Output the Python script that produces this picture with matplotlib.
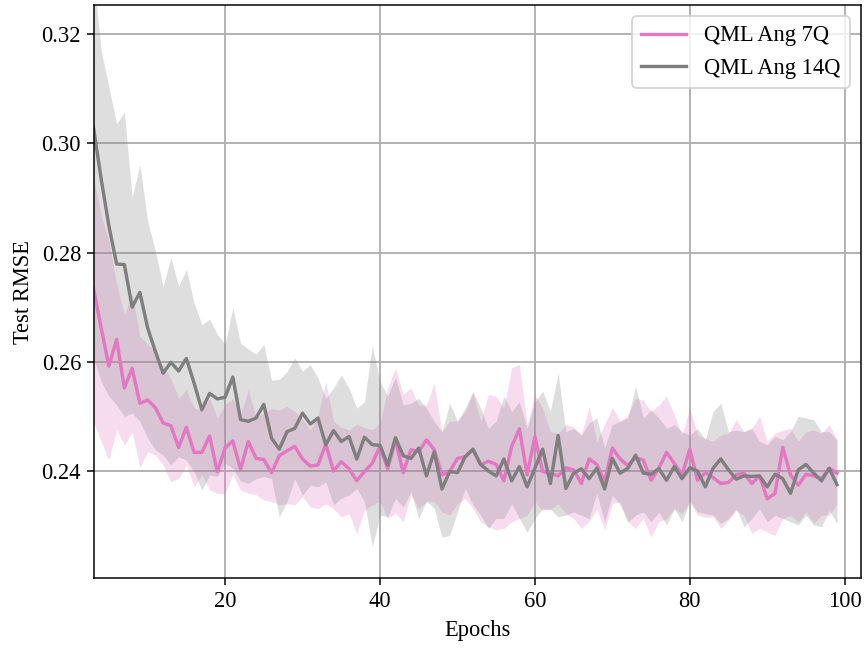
import numpy as np
import matplotlib
matplotlib.use("Agg")
import matplotlib.pyplot as plt

plt.rcParams['font.family'] = ['Liberation Serif', 'DejaVu Serif']
plt.rcParams['font.size'] = 12

epochs = np.arange(3, 100)

# QML Ang 7Q (pink): mean, upper, lower
ang7_mean = [
    0.2735, 0.2662, 0.2592, 0.2641, 0.2552, 0.2588, 0.2524, 0.2530, 0.2516, 0.2488,
    0.2483, 0.2443, 0.2480, 0.2434, 0.2434, 0.2464, 0.2399, 0.2442, 0.2455, 0.2403,
    0.2454, 0.2423, 0.2421, 0.2397, 0.2428, 0.2437, 0.2445, 0.2422, 0.2409, 0.2411,
    0.2449, 0.2400, 0.2417, 0.2404, 0.2382, 0.2399, 0.2414, 0.2445, 0.2404, 0.2457,
    0.2397, 0.2439, 0.2435, 0.2457, 0.2439, 0.2393, 0.2399, 0.2423, 0.2426, 0.2439,
    0.2411, 0.2418, 0.2412, 0.2382, 0.2445, 0.2477, 0.2393, 0.2463, 0.2399, 0.2396,
    0.2391, 0.2406, 0.2402, 0.2377, 0.2422, 0.2412, 0.2380, 0.2442, 0.2422, 0.2410,
    0.2424, 0.2420, 0.2383, 0.2405, 0.2434, 0.2414, 0.2393, 0.2440, 0.2383, 0.2397,
    0.2388, 0.2377, 0.2379, 0.2393, 0.2396, 0.2377, 0.2391, 0.2349, 0.2359, 0.2443,
    0.2393, 0.2374, 0.2394, 0.2391, 0.2386, 0.2405, 0.2396,
]
ang7_upper = [
    0.2940, 0.2868, 0.2822, 0.2742, 0.2687, 0.2724, 0.2647, 0.2632, 0.2619, 0.2592,
    0.2570, 0.2533, 0.2549, 0.2515, 0.2512, 0.2533, 0.2497, 0.2521, 0.2533, 0.2503,
    0.2549, 0.2497, 0.2506, 0.2514, 0.2512, 0.2518, 0.2509, 0.2494, 0.2475, 0.2503,
    0.2564, 0.2491, 0.2480, 0.2475, 0.2485, 0.2480, 0.2475, 0.2488, 0.2552, 0.2589,
    0.2540, 0.2552, 0.2521, 0.2521, 0.2561, 0.2472, 0.2491, 0.2491, 0.2509, 0.2543,
    0.2491, 0.2540, 0.2537, 0.2515, 0.2589, 0.2595, 0.2485, 0.2540, 0.2515, 0.2472,
    0.2469, 0.2485, 0.2481, 0.2466, 0.2518, 0.2454, 0.2485, 0.2516, 0.2491, 0.2503,
    0.2533, 0.2530, 0.2509, 0.2521, 0.2537, 0.2503, 0.2466, 0.2515, 0.2466, 0.2460,
    0.2454, 0.2466, 0.2469, 0.2494, 0.2472, 0.2478, 0.2500, 0.2454, 0.2469, 0.2475,
    0.2478, 0.2454, 0.2472, 0.2475, 0.2469, 0.2485, 0.2457,
]
ang7_lower = [
    0.2491, 0.2454, 0.2420, 0.2475, 0.2447, 0.2472, 0.2406, 0.2435, 0.2429, 0.2411,
    0.2380, 0.2386, 0.2411, 0.2371, 0.2393, 0.2365, 0.2359, 0.2359, 0.2393, 0.2365,
    0.2359, 0.2356, 0.2347, 0.2344, 0.2338, 0.2340, 0.2338, 0.2353, 0.2334, 0.2331,
    0.2340, 0.2331, 0.2316, 0.2322, 0.2285, 0.2328, 0.2338, 0.2344, 0.2313, 0.2323,
    0.2307, 0.2356, 0.2331, 0.2344, 0.2344, 0.2325, 0.2319, 0.2340, 0.2350, 0.2331,
    0.2307, 0.2298, 0.2292, 0.2295, 0.2307, 0.2313, 0.2319, 0.2344, 0.2328, 0.2330,
    0.2340, 0.2322, 0.2313, 0.2295, 0.2307, 0.2331, 0.2292, 0.2340, 0.2344, 0.2307,
    0.2295, 0.2313, 0.2279, 0.2307, 0.2313, 0.2331, 0.2322, 0.2344, 0.2319, 0.2315,
    0.2316, 0.2295, 0.2310, 0.2328, 0.2319, 0.2285, 0.2295, 0.2288, 0.2282, 0.2313,
    0.2319, 0.2307, 0.2325, 0.2304, 0.2319, 0.2319, 0.2340,
]

# QML Ang 14Q (gray): mean, upper, lower
ang14_mean = [
    0.3030, 0.2935, 0.2849, 0.2779, 0.2778, 0.2700, 0.2727, 0.2662, 0.2619, 0.2579,
    0.2599, 0.2583, 0.2606, 0.2561, 0.2512, 0.2542, 0.2532, 0.2535, 0.2572, 0.2494,
    0.2491, 0.2497, 0.2522, 0.2460, 0.2440, 0.2472, 0.2478, 0.2506, 0.2486, 0.2497,
    0.2448, 0.2474, 0.2454, 0.2463, 0.2422, 0.2462, 0.2448, 0.2447, 0.2411, 0.2461,
    0.2428, 0.2423, 0.2442, 0.2391, 0.2435, 0.2367, 0.2399, 0.2397, 0.2426, 0.2440,
    0.2412, 0.2400, 0.2391, 0.2422, 0.2382, 0.2408, 0.2371, 0.2405, 0.2440, 0.2377,
    0.2465, 0.2368, 0.2396, 0.2404, 0.2386, 0.2405, 0.2367, 0.2423, 0.2396, 0.2405,
    0.2429, 0.2396, 0.2394, 0.2404, 0.2383, 0.2408, 0.2386, 0.2406, 0.2400, 0.2371,
    0.2405, 0.2422, 0.2402, 0.2385, 0.2391, 0.2390, 0.2391, 0.2371, 0.2394, 0.2386,
    0.2359, 0.2402, 0.2412, 0.2396, 0.2382, 0.2405, 0.2375,
]
ang14_upper = [
    0.3310, 0.3170, 0.3103, 0.3036, 0.3057, 0.2901, 0.2961, 0.2858, 0.2803, 0.2738,
    0.2791, 0.2738, 0.2769, 0.2708, 0.2668, 0.2678, 0.2650, 0.2632, 0.2699, 0.2634,
    0.2623, 0.2614, 0.2632, 0.2566, 0.2568, 0.2582, 0.2607, 0.2583, 0.2595, 0.2570,
    0.2533, 0.2552, 0.2576, 0.2552, 0.2515, 0.2527, 0.2630, 0.2564, 0.2537, 0.2572,
    0.2521, 0.2524, 0.2533, 0.2515, 0.2491, 0.2472, 0.2524, 0.2491, 0.2515, 0.2546,
    0.2515, 0.2478, 0.2491, 0.2537, 0.2509, 0.2527, 0.2478, 0.2527, 0.2546, 0.2510,
    0.2579, 0.2472, 0.2478, 0.2466, 0.2488, 0.2497, 0.2442, 0.2485, 0.2491, 0.2497,
    0.2555, 0.2497, 0.2512, 0.2497, 0.2478, 0.2485, 0.2472, 0.2466, 0.2478, 0.2457,
    0.2509, 0.2524, 0.2472, 0.2475, 0.2472, 0.2478, 0.2454, 0.2448, 0.2463, 0.2457,
    0.2472, 0.2500, 0.2497, 0.2494, 0.2472, 0.2472, 0.2457,
]
ang14_lower = [
    0.2607, 0.2564, 0.2537, 0.2521, 0.2500, 0.2506, 0.2491, 0.2460, 0.2439, 0.2429,
    0.2411, 0.2426, 0.2420, 0.2399, 0.2365, 0.2393, 0.2390, 0.2414, 0.2405, 0.2382,
    0.2377, 0.2386, 0.2390, 0.2386, 0.2316, 0.2344, 0.2386, 0.2356, 0.2374, 0.2371,
    0.2380, 0.2338, 0.2350, 0.2356, 0.2368, 0.2344, 0.2261, 0.2319, 0.2316, 0.2350,
    0.2334, 0.2362, 0.2313, 0.2345, 0.2331, 0.2279, 0.2282, 0.2325, 0.2368, 0.2338,
    0.2319, 0.2295, 0.2313, 0.2313, 0.2340, 0.2313, 0.2288, 0.2313, 0.2331, 0.2330,
    0.2316, 0.2319, 0.2325, 0.2319, 0.2313, 0.2359, 0.2307, 0.2356, 0.2338, 0.2307,
    0.2319, 0.2325, 0.2307, 0.2325, 0.2301, 0.2331, 0.2307, 0.2344, 0.2325, 0.2322,
    0.2319, 0.2304, 0.2313, 0.2331, 0.2298, 0.2313, 0.2331, 0.2307, 0.2319, 0.2313,
    0.2307, 0.2301, 0.2319, 0.2301, 0.2298, 0.2328, 0.2304,
]

pink = '#e377c2'
grey = '#7f7f7f'

fig, ax = plt.subplots(figsize=(6.4, 4.8), dpi=135)
fig.subplots_adjust(left=0.109, right=0.9965, top=0.992, bottom=0.108)

ax.fill_between(epochs, ang7_lower, ang7_upper, color=pink, alpha=0.25, linewidth=0)
ax.fill_between(epochs, ang14_lower, ang14_upper, color=grey, alpha=0.25, linewidth=0)
ax.plot(epochs, ang7_mean, color=pink, lw=1.8, label='QML Ang 7Q')
ax.plot(epochs, ang14_mean, color=grey, lw=1.8, label='QML Ang 14Q')

ax.set_xlim(3.1, 102.1)
ax.set_ylim(0.2204, 0.3253)
ax.set_xticks([20, 40, 60, 80, 100])
ax.set_yticks([0.24, 0.26, 0.28, 0.30, 0.32])
ax.set_yticklabels(['0.24', '0.26', '0.28', '0.30', '0.32'])
ax.grid(True, color='#b0b0b0', lw=1.0)
ax.set_axisbelow(True)
ax.set_xlabel('Epochs')
ax.set_ylabel('Test RMSE')
ax.legend(loc='upper right')

fig.savefig('out.png', dpi=135)
